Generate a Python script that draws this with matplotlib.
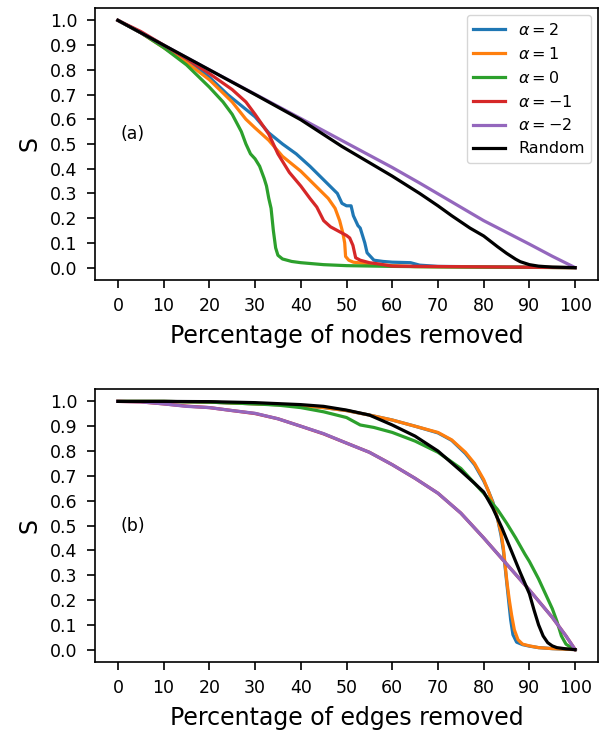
import matplotlib
matplotlib.use("Agg")
import matplotlib.pyplot as plt

# ---- panel (a): node removal ----
a_blue_x = [0, 5, 10, 15, 20, 24, 28, 30, 33, 36, 39, 42, 45, 48, 49, 50, 51, 51.5, 52.5, 53, 54, 54.5, 56, 58, 60, 64, 66, 70, 100]
a_blue_y = [1.0, 0.95, 0.895, 0.84, 0.77, 0.70, 0.64, 0.61, 0.545, 0.50, 0.46, 0.41, 0.355, 0.30, 0.26, 0.25, 0.25, 0.21, 0.17, 0.16, 0.10, 0.06, 0.03, 0.025, 0.022, 0.02, 0.01, 0.005, 0.0]

a_orange_x = [0, 5, 10, 15, 20, 25, 28, 30, 33, 36, 40, 43, 46, 47.5, 48.5, 49.2, 49.6, 49.8, 50.5, 51.5, 55, 60, 65, 100]
a_orange_y = [1.0, 0.95, 0.89, 0.83, 0.76, 0.67, 0.60, 0.565, 0.515, 0.45, 0.39, 0.335, 0.28, 0.24, 0.19, 0.14, 0.10, 0.045, 0.03, 0.022, 0.015, 0.008, 0.004, 0.0]

a_green_x = [0, 5, 10, 15, 20, 23, 25, 27, 28, 29, 30, 31, 32, 32.5, 33, 33.5, 34, 34.5, 35, 36, 38, 40, 45, 50, 60, 70, 100]
a_green_y = [1.0, 0.95, 0.89, 0.82, 0.73, 0.67, 0.62, 0.55, 0.50, 0.46, 0.44, 0.41, 0.36, 0.33, 0.28, 0.24, 0.15, 0.08, 0.05, 0.035, 0.025, 0.02, 0.012, 0.008, 0.005, 0.003, 0.0]

a_red_x = [0, 5, 10, 15, 20, 25, 28, 30, 33, 35, 37.5, 40, 42, 43.5, 45, 46.5, 48, 50, 50.7, 51.4, 52, 53, 55, 57, 60, 100]
a_red_y = [1.0, 0.955, 0.90, 0.845, 0.785, 0.72, 0.67, 0.62, 0.54, 0.46, 0.385, 0.33, 0.28, 0.245, 0.19, 0.165, 0.15, 0.13, 0.12, 0.09, 0.04, 0.03, 0.02, 0.015, 0.006, 0.0]

a_purple_x = [0, 20, 40, 60, 66, 80, 90, 95, 100]
a_purple_y = [1.0, 0.8, 0.603, 0.405, 0.342, 0.19, 0.095, 0.046, 0.0]

a_random_x = [0, 10, 20, 30, 40, 49, 60, 66, 70, 73, 77, 80, 83, 85, 87, 88, 90, 92, 95, 100]
a_random_y = [1.0, 0.9, 0.8, 0.7, 0.598, 0.49, 0.37, 0.30, 0.25, 0.21, 0.16, 0.128, 0.085, 0.058, 0.034, 0.024, 0.012, 0.006, 0.002, 0.0]

# ---- panel (b): edge removal ----
b_blue_x = [0, 10, 20, 30, 40, 45, 50, 55, 60, 65, 70, 73, 76, 78, 80, 81, 82, 83, 83.8, 84.3, 84.7, 85.1, 85.5, 85.9, 86.4, 87.2, 88.5, 90, 92, 95, 100]
b_blue_y = [1.0, 1.0, 0.997, 0.99, 0.983, 0.975, 0.963, 0.945, 0.925, 0.90, 0.873, 0.843, 0.79, 0.745, 0.68, 0.64, 0.595, 0.53, 0.46, 0.40, 0.33, 0.26, 0.19, 0.12, 0.06, 0.03, 0.02, 0.014, 0.008, 0.004, 0.0]

b_orange_x = [0, 10, 20, 30, 40, 45, 50, 55, 60, 65, 70, 73, 76, 78, 80, 81, 82, 83, 83.8, 84.3, 84.7, 85.1, 85.6, 86.1, 86.7, 87.5, 88.5, 90, 92, 95, 100]
b_orange_y = [1.0, 1.0, 0.997, 0.99, 0.983, 0.975, 0.963, 0.945, 0.925, 0.90, 0.875, 0.845, 0.795, 0.75, 0.685, 0.64, 0.59, 0.53, 0.47, 0.41, 0.34, 0.27, 0.2, 0.14, 0.08, 0.04, 0.022, 0.015, 0.008, 0.004, 0.0]

b_green_x = [0, 10, 20, 30, 35, 40, 45, 50, 53, 56, 60, 65, 70, 75, 78, 80, 83, 85, 87, 89, 90, 92, 94, 95, 96, 97, 98, 99, 100]
b_green_y = [1.0, 1.0, 0.997, 0.99, 0.985, 0.975, 0.958, 0.935, 0.905, 0.895, 0.875, 0.84, 0.795, 0.73, 0.67, 0.63, 0.565, 0.51, 0.45, 0.385, 0.355, 0.285, 0.205, 0.165, 0.115, 0.055, 0.022, 0.01, 0.0]

b_red_x = [0, 5, 10, 15, 20, 25, 30, 35, 40, 45, 50, 55, 60, 65, 70, 75, 80, 85, 90, 95, 98, 100]
b_red_y = [1.0, 0.998, 0.99, 0.981, 0.975, 0.963, 0.951, 0.93, 0.9, 0.869, 0.832, 0.795, 0.745, 0.69, 0.63, 0.55, 0.45, 0.345, 0.24, 0.13, 0.055, 0.0]

b_purple_x = [0, 5, 10, 15, 20, 25, 30, 35, 40, 45, 50, 55, 60, 65, 70, 75, 80, 85, 90, 95, 98, 100]
b_purple_y = [1.0, 0.998, 0.99, 0.98, 0.975, 0.963, 0.952, 0.93, 0.9, 0.87, 0.832, 0.795, 0.745, 0.69, 0.63, 0.55, 0.45, 0.345, 0.24, 0.13, 0.055, 0.0]

b_random_x = [0, 10, 20, 30, 40, 45, 50, 55, 60, 65, 70, 75, 78, 80, 82, 84, 86, 88, 90, 91, 92, 93, 94, 95, 96, 98, 100]
b_random_y = [1.0, 1.0, 0.999, 0.995, 0.987, 0.98, 0.965, 0.945, 0.905, 0.86, 0.80, 0.72, 0.67, 0.635, 0.57, 0.49, 0.40, 0.31, 0.225, 0.16, 0.10, 0.055, 0.028, 0.015, 0.008, 0.003, 0.0]

labels = [r"$\alpha=2$", r"$\alpha=1$", r"$\alpha=0$", r"$\alpha=-1$", r"$\alpha=-2$", "Random"]
colors = ["#1f77b4", "#ff7f0e", "#2ca02c", "#d62728", "#9467bd", "black"]

panel_a = [(a_blue_x, a_blue_y), (a_orange_x, a_orange_y), (a_green_x, a_green_y),
           (a_red_x, a_red_y), (a_purple_x, a_purple_y), (a_random_x, a_random_y)]
panel_b = [(b_blue_x, b_blue_y), (b_orange_x, b_orange_y), (b_green_x, b_green_y),
           (b_red_x, b_red_y), (b_purple_x, b_purple_y), (b_random_x, b_random_y)]

xticks = list(range(0, 101, 10))
yticks = [i / 10 for i in range(11)]

fig = plt.figure(figsize=(6.06, 7.32), dpi=100)
ax_a = fig.add_axes([0.1568, 0.6175, 0.830, 0.3716])
ax_b = fig.add_axes([0.1568, 0.0956, 0.830, 0.3730])

for ax, series, tag, xlabel in [(ax_a, panel_a, "(a)", "Percentage of nodes removed"),
                                (ax_b, panel_b, "(b)", "Percentage of edges removed")]:
    for (xs, ys), lab, c in zip(series, labels, colors):
        ax.plot(xs, ys, color=c, lw=2.3, label=lab)
    ax.set_xticks(xticks)
    ax.set_yticks(yticks)
    ax.set_yticklabels([f"{v:.1f}" for v in yticks])
    ax.tick_params(labelsize=12.5, length=6, width=1.2, pad=6.5)
    for sp in ax.spines.values():
        sp.set_linewidth(1.2)
    ax.set_xlabel(xlabel, fontsize=17, labelpad=6)
    ax.set_ylabel("S", fontsize=17, labelpad=6)
    ax.text(0.5, 0.54 if tag == "(a)" else 0.50, tag, fontsize=12.5, va="center", ha="left")

ax_a.legend(loc="upper right", fontsize=11.5, borderaxespad=0.45)

fig.savefig("out.png", dpi=100)
